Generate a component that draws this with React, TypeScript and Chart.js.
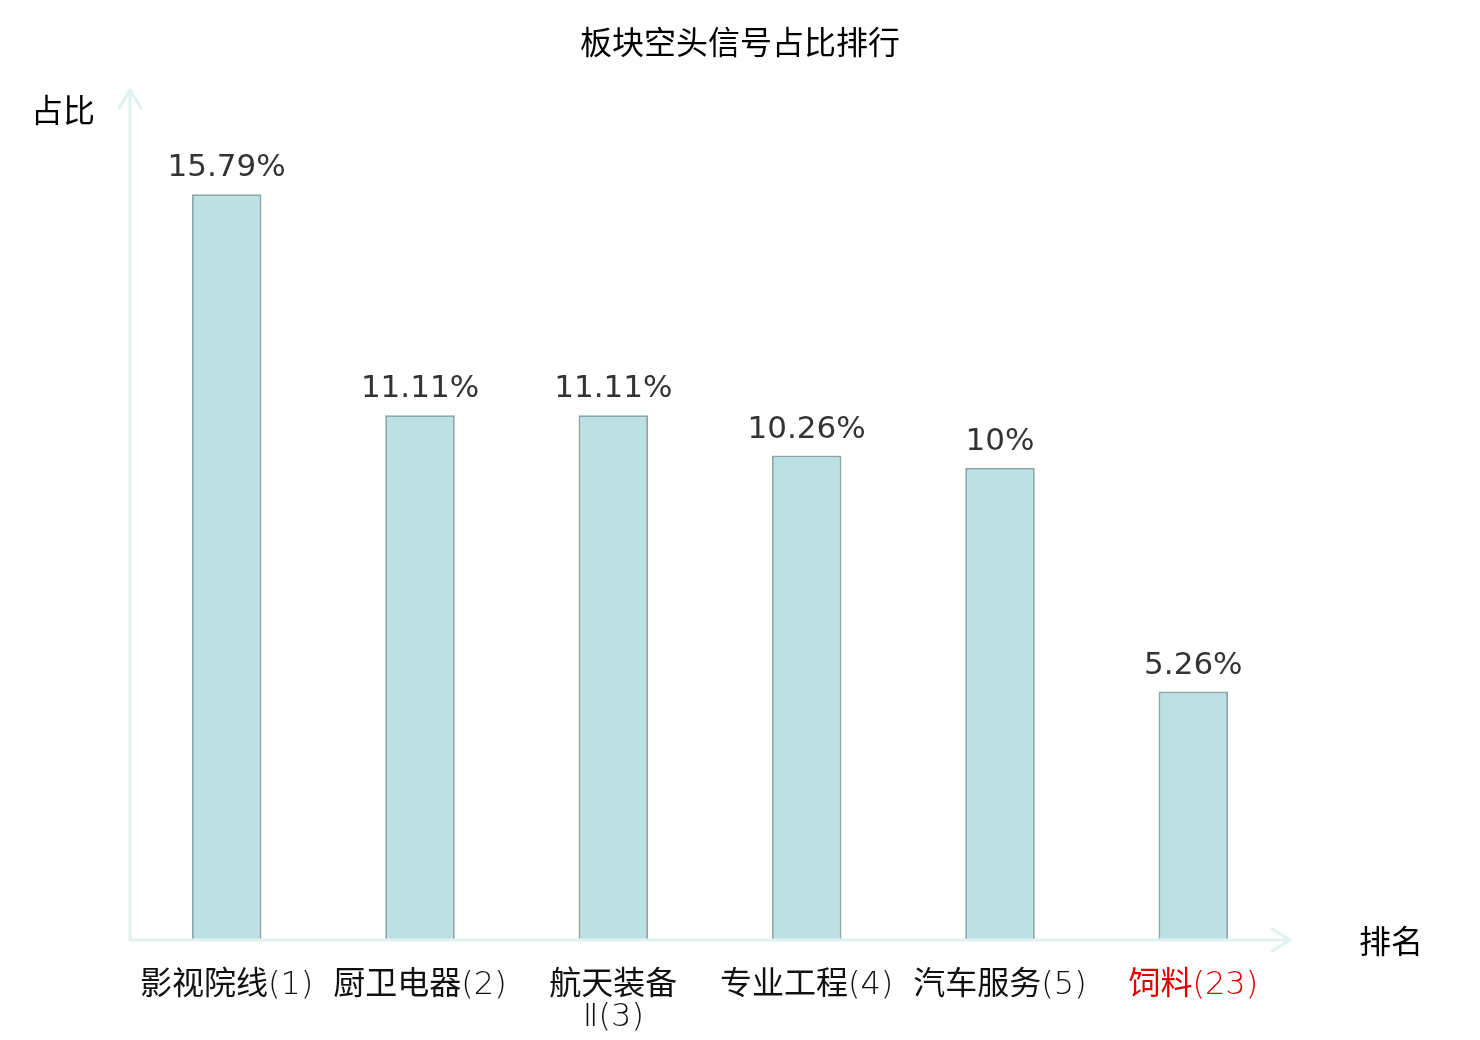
import React, { useEffect, useRef } from "react";
import { Chart, registerables } from "chart.js";

Chart.register(...registerables);

const categories: string[][] = [
  ["影视院线(1)"],
  ["厨卫电器(2)"],
  ["航天装备", "Ⅱ(3)"],
  ["专业工程(4)"],
  ["汽车服务(5)"],
  ["饲料(23)"],
];
const values: number[] = [15.79, 11.11, 11.11, 10.26, 10, 5.26];
const valueLabels: string[] = ["15.79%", "11.11%", "11.11%", "10.26%", "10%", "5.26%"];
const labelColors: string[] = ["#111", "#111", "#111", "#111", "#111", "#e00000"];
const titleText = "板块空头信号占比排行";
const yAxisName = "占比";
const xAxisName = "排名";
const yMax = 18;

const CJK = '"Noto Sans CJK SC"';
const CJK_FONT = `400 32px ${CJK}`;
const LATIN_FONT = '200 32px "DejaVu Sans"';

function isCJK(ch: string) {
  return /[\u3400-\u9fff]/.test(ch);
}

function drawMixed(ctx: CanvasRenderingContext2D, text: string, cx: number, y: number) {
  const parts: { t: string; cjk: boolean }[] = [];
  for (const ch of text) {
    const c = isCJK(ch);
    if (parts.length && parts[parts.length - 1].cjk === c) parts[parts.length - 1].t += ch;
    else parts.push({ t: ch, cjk: c });
  }
  let total = 0;
  const widths = parts.map((p) => {
    ctx.font = p.cjk ? CJK_FONT : LATIN_FONT;
    const w = ctx.measureText(p.t).width;
    total += w;
    return w;
  });
  let x = cx - total / 2;
  ctx.textAlign = "left";
  parts.forEach((p, i) => {
    ctx.font = p.cjk ? CJK_FONT : LATIN_FONT;
    ctx.fillText(p.t, x, y);
    x += widths[i];
  });
  ctx.textAlign = "center";
}

const overlay = {
  id: "overlay",
  afterDatasetsDraw(chart: any) {
    const ctx: CanvasRenderingContext2D = chart.ctx;
    const area = chart.chartArea;
    const xs = chart.scales.x;
    const ys = chart.scales.y;
    ctx.save();

    // axes with arrows
    ctx.strokeStyle = "#dff2ef";
    ctx.lineWidth = 3;
    ctx.lineCap = "round";
    ctx.lineJoin = "round";
    const x0 = area.left;
    const y0 = ys.getPixelForValue(0);
    ctx.beginPath();
    ctx.moveTo(x0, y0);
    ctx.lineTo(x0, area.top);
    ctx.moveTo(x0 - 11, area.top + 18);
    ctx.lineTo(x0, area.top);
    ctx.lineTo(x0 + 11, area.top + 18);
    ctx.moveTo(x0, y0);
    ctx.lineTo(area.right, y0);
    ctx.moveTo(area.right - 18, y0 - 11);
    ctx.lineTo(area.right, y0);
    ctx.lineTo(area.right - 18, y0 + 11);
    ctx.stroke();

    // value labels
    ctx.fillStyle = "#333";
    ctx.font = '31px "DejaVu Sans"';
    ctx.textAlign = "center";
    ctx.textBaseline = "alphabetic";
    const meta = chart.getDatasetMeta(0);
    meta.data.forEach((bar: any, i: number) => {
      ctx.fillText(valueLabels[i], bar.x, bar.y - 18);
    });

    // x labels
    categories.forEach((lines, i) => {
      const cx = xs.getPixelForValue(i);
      ctx.fillStyle = labelColors[i];
      lines.forEach((ln, j) => {
        drawMixed(ctx, ln, cx, y0 + 54 + j * 32);
      });
    });

    // axis names
    ctx.fillStyle = "#000";
    ctx.textBaseline = "middle";
    ctx.font = `32px ${CJK}`;
    ctx.fillText(yAxisName, 63, area.top + 20);
    ctx.fillText(xAxisName, area.right + 101, y0 + 1);

    // title
    ctx.fillText(titleText, chart.width / 2, 42);
    ctx.restore();
  },
};

export default function App() {
  const ref = useRef<HTMLCanvasElement>(null);
  useEffect(() => {
    document.body.style.margin = "0";
    const chart = new Chart(ref.current!, {
      type: "bar",
      data: {
        labels: categories.map((c) => c.join("")),
        datasets: [
          {
            data: values,
            backgroundColor: "#bce0e3",
            borderColor: "#8aa8a8",
            borderWidth: 2,
            barPercentage: 0.36,
            categoryPercentage: 1,
          },
        ],
      },
      options: {
        animation: false,
        responsive: false,
        devicePixelRatio: 1,
        layout: { padding: { left: 130, right: 190, top: 90, bottom: 100 } },
        plugins: { legend: { display: false }, title: { display: false }, tooltip: { enabled: false } },
        scales: {
          x: { display: false },
          y: { display: false, min: 0, max: yMax },
        },
      },
      plugins: [overlay],
    });
    return () => chart.destroy();
  }, []);
  return <canvas ref={ref} width={1480} height={1040} style={{ display: "block" }} />;
}
